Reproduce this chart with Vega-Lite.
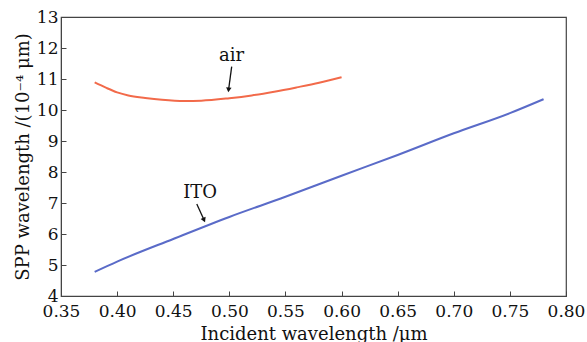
{
  "$schema": "https://vega.github.io/schema/vega-lite/v6.json",
  "width": 505,
  "height": 279,
  "autosize": {"type": "none"},
  "padding": {"left": 61, "top": 17, "right": 21, "bottom": 46},
  "background": "white",
  "config": {
    "view": {"stroke": "#444", "strokeWidth": 1.2},
    "font": "DejaVu Serif",
    "axis": {
      "domainColor": "#444",
      "tickColor": "#444",
      "grid": false,
      "tickSize": -5,
      "labelFont": "DejaVu Serif",
      "titleFont": "DejaVu Serif",
      "labelColor": "#111",
      "titleColor": "#111",
      "labelFontSize": 17,
      "titleFontSize": 18,
      "titleFontWeight": "normal",
      "labelOverlap": false
    }
  },
  "datasets": {
    "curves": [
      {"series": "air", "x": 0.38, "y": 10.89},
      {"series": "air", "x": 0.39, "y": 10.72},
      {"series": "air", "x": 0.40, "y": 10.57},
      {"series": "air", "x": 0.41, "y": 10.47},
      {"series": "air", "x": 0.425, "y": 10.39},
      {"series": "air", "x": 0.44, "y": 10.33},
      {"series": "air", "x": 0.46, "y": 10.29},
      {"series": "air", "x": 0.475, "y": 10.30},
      {"series": "air", "x": 0.50, "y": 10.38},
      {"series": "air", "x": 0.52, "y": 10.47},
      {"series": "air", "x": 0.54, "y": 10.59},
      {"series": "air", "x": 0.56, "y": 10.73},
      {"series": "air", "x": 0.58, "y": 10.88},
      {"series": "air", "x": 0.60, "y": 11.06},
      {"series": "ITO", "x": 0.38, "y": 4.78},
      {"series": "ITO", "x": 0.40, "y": 5.11},
      {"series": "ITO", "x": 0.45, "y": 5.84},
      {"series": "ITO", "x": 0.50, "y": 6.55},
      {"series": "ITO", "x": 0.55, "y": 7.2},
      {"series": "ITO", "x": 0.60, "y": 7.88},
      {"series": "ITO", "x": 0.65, "y": 8.55},
      {"series": "ITO", "x": 0.70, "y": 9.25},
      {"series": "ITO", "x": 0.75, "y": 9.9},
      {"series": "ITO", "x": 0.78, "y": 10.35}
    ],
    "labels": [
      {"name": "air", "x": 0.502, "y": 11.75},
      {"name": "ITO", "x": 0.474, "y": 7.33}
    ],
    "arrows": [
      {"name": "air", "x": 0.4993, "y": 10.65, "x2": 0.5021, "y2": 11.4},
      {"name": "ITO", "x": 0.4775, "y": 6.45, "x2": 0.471, "y2": 6.97}
    ]
  },
  "encoding": {
    "x": {
      "field": "x", "type": "quantitative",
      "scale": {"domain": [0.35, 0.8], "nice": false, "zero": false},
      "axis": {"values": [0.35, 0.4, 0.45, 0.5, 0.55, 0.6, 0.65, 0.7, 0.75, 0.8], "format": ".2f", "title": "Incident wavelength /μm", "labelPadding": 12, "titlePadding": 6, "labelFlush": false, "labelOverlap": false}
    },
    "y": {
      "field": "y", "type": "quantitative",
      "scale": {"domain": [4, 13], "nice": false, "zero": false},
      "axis": {"values": [4, 5, 6, 7, 8, 9, 10, 11, 12, 13], "tickCount": 10, "title": "SPP wavelength /(10⁻⁴ μm)", "labelPadding": 8, "titlePadding": 4, "labelFlush": false, "labelOverlap": false}
    }
  },
  "layer": [
    {
      "data": {"name": "curves"},
      "mark": {"type": "line", "strokeWidth": 2, "interpolate": "monotone"},
      "encoding": {
        "color": {
          "field": "series", "type": "nominal",
          "scale": {"domain": ["air", "ITO"], "range": ["#f26a4a", "#5a6bc8"]},
          "legend": null
        }
      }
    },
    {
      "data": {"name": "arrows"},
      "mark": {"type": "rule", "color": "#111", "strokeWidth": 1.3},
      "encoding": {
        "x2": {"field": "x2"},
        "y2": {"field": "y2"}
      }
    },
    {
      "data": {"name": "arrows"},
      "transform": [{"filter": "datum.name == 'air'"}],
      "mark": {"type": "point", "shape": "triangle-down", "filled": true, "color": "#111", "size": 30, "angle": 7, "opacity": 1},
      "encoding": {}
    },
    {
      "data": {"name": "arrows"},
      "transform": [{"filter": "datum.name == 'ITO'"}],
      "mark": {"type": "point", "shape": "triangle-down", "filled": true, "color": "#111", "size": 30, "angle": -24, "opacity": 1},
      "encoding": {}
    },
    {
      "data": {"name": "labels"},
      "mark": {"type": "text", "font": "DejaVu Serif", "fontSize": 18, "color": "#111", "baseline": "middle", "align": "center"},
      "encoding": {
        "text": {"field": "name"}
      }
    }
  ]
}
